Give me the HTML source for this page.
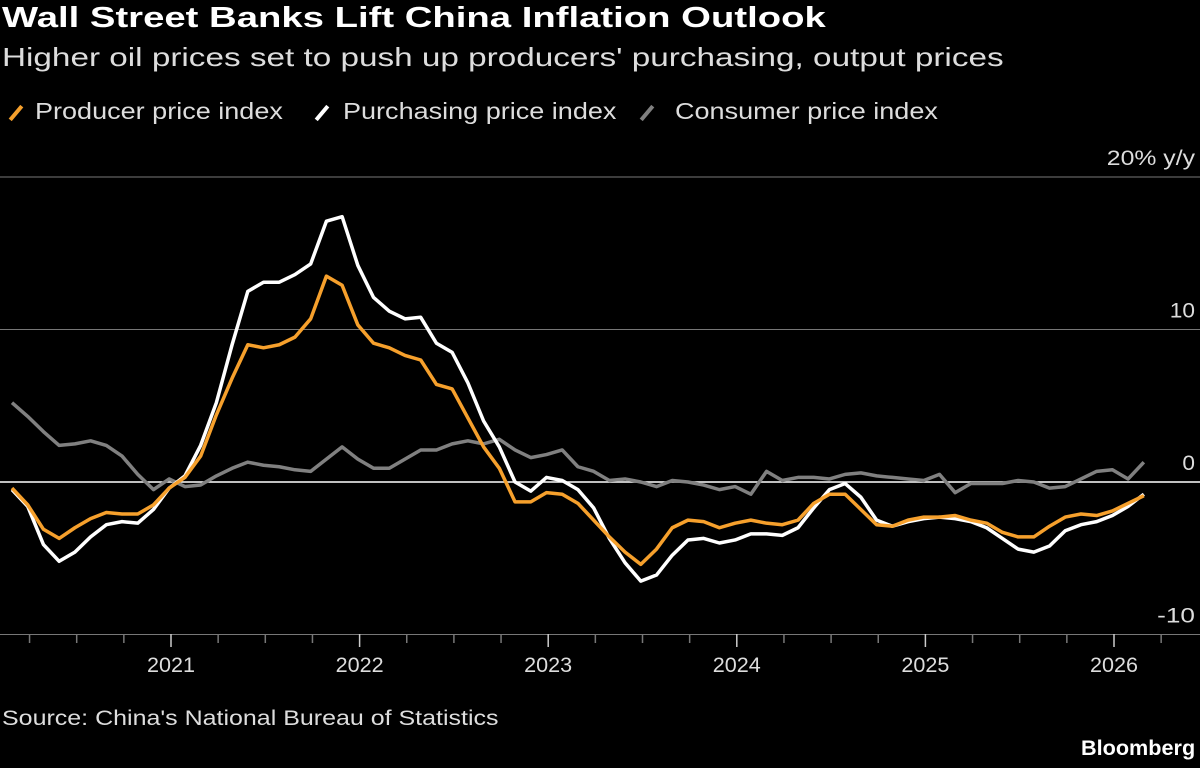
<!DOCTYPE html>
<html><head><meta charset="utf-8"><style>
body{margin:0;background:#000;width:1200px;height:768px;overflow:hidden;font-family:"Liberation Sans",sans-serif;color:#fff}
.t{position:absolute;white-space:nowrap;transform-origin:0 0}
.sl{position:absolute;width:4px;height:18px;transform:rotate(40deg);top:104px}
</style></head><body>
<div class="t" style="left:2px;top:2px;font-size:29px;font-weight:bold;transform:scaleX(1.32)">Wall Street Banks Lift China Inflation Outlook</div>
<div class="t" style="left:2px;top:42px;font-size:26px;color:#ddd;transform:scaleX(1.28)">Higher oil prices set to push up producers' purchasing, output prices</div>
<div>
<div class="sl" style="left:14px;background:#f6a02c"></div>
<div class="t" style="left:35px;top:98px;font-size:23px;color:#ddd;transform:scaleX(1.175)">Producer price index</div>
<div class="sl" style="left:320px;background:#fff"></div>
<div class="t" style="left:343px;top:98px;font-size:23px;color:#ddd;transform:scaleX(1.175)">Purchasing price index</div>
<div class="sl" style="left:645px;background:#808080"></div>
<div class="t" style="left:675px;top:98px;font-size:23px;color:#ddd;transform:scaleX(1.175)">Consumer price index</div>
</div>
<div class="t" style="left:2px;top:707px;font-size:21px;color:#ddd;transform:scaleX(1.19)">Source: China's National Bureau of Statistics</div>
<div class="t" style="left:1081px;top:737px;font-size:21px;font-weight:bold;transform:scaleX(1.03)">Bloomberg</div>
<svg id="c" width="1200" height="768" style="position:absolute;left:0;top:0"></svg>
<script>
const yTicks=[20,10,0,-10];
const yTickLabels=["20% y/y","10","0","-10"];
const years=["2021","2022","2023","2024","2025","2026"];
const ppi=[-0.4,-1.5,-3.1,-3.7,-3.0,-2.4,-2.0,-2.1,-2.1,-1.5,-0.4,0.3,1.7,4.4,6.8,9.0,8.8,9.0,9.5,10.7,13.5,12.9,10.3,9.1,8.8,8.3,8.0,6.4,6.1,4.2,2.3,0.9,-1.3,-1.3,-0.7,-0.8,-1.4,-2.5,-3.6,-4.6,-5.4,-4.4,-3.0,-2.5,-2.6,-3.0,-2.7,-2.5,-2.7,-2.8,-2.5,-1.4,-0.8,-0.8,-1.8,-2.8,-2.9,-2.5,-2.3,-2.3,-2.2,-2.5,-2.7,-3.3,-3.6,-3.6,-2.9,-2.3,-2.1,-2.2,-1.9,-1.4,-0.9];
const purchasing=[-0.5,-1.6,-4.1,-5.2,-4.6,-3.6,-2.8,-2.6,-2.7,-1.8,-0.4,0.4,2.4,5.2,9.0,12.5,13.1,13.1,13.6,14.3,17.1,17.4,14.2,12.1,11.2,10.7,10.8,9.1,8.5,6.5,4.0,2.3,0.0,-0.6,0.3,0.1,-0.5,-1.7,-3.7,-5.3,-6.5,-6.1,-4.8,-3.8,-3.7,-4.0,-3.8,-3.4,-3.4,-3.5,-3.0,-1.7,-0.5,-0.1,-1.0,-2.5,-2.9,-2.6,-2.4,-2.3,-2.4,-2.6,-3.0,-3.7,-4.4,-4.6,-4.2,-3.2,-2.8,-2.6,-2.2,-1.6,-0.8];
const cpi=[5.2,4.3,3.3,2.4,2.5,2.7,2.4,1.7,0.5,-0.5,0.2,-0.3,-0.2,0.4,0.9,1.3,1.1,1.0,0.8,0.7,1.5,2.3,1.5,0.9,0.9,1.5,2.1,2.1,2.5,2.7,2.5,2.8,2.1,1.6,1.8,2.1,1.0,0.7,0.1,0.2,0.0,-0.3,0.1,0.0,-0.2,-0.5,-0.3,-0.8,0.7,0.1,0.3,0.3,0.2,0.5,0.6,0.4,0.3,0.2,0.1,0.5,-0.7,-0.1,-0.1,-0.1,0.1,0.0,-0.4,-0.3,0.2,0.7,0.8,0.2,1.3];
const NS="http://www.w3.org/2000/svg",svg=document.getElementById('c');
const y=v=>482-v*15.25, x=i=>12+i*15.72, xt=k=>171+k*47.15;
function el(t,a){const e=document.createElementNS(NS,t);for(const k in a)e.setAttribute(k,a[k]);svg.appendChild(e);return e;}
yTicks.forEach((v,i)=>{
 const g=el('line',{x1:0,x2:1200,y1:y(v),y2:y(v),stroke:v===0?'#fff':'#777','stroke-width':v===0?1.5:1});
 
 
 const t=el('text',{x:1195,y:y(v)-12,'text-anchor':'end','font-size':21,fill:'#ddd','font-family':'Liberation Sans'});
 t.textContent=yTickLabels[i];
 t.setAttribute('textLength',yTickLabels[i].length*12.6);
 t.setAttribute('lengthAdjust','spacingAndGlyphs');
 
 
});
for(let k=-3;k<=21;k++){
 const maj=k%4===0;
 const tk=el('line',{x1:xt(k),x2:xt(k),y1:634,y2:maj?647:643,stroke:maj?'#ccc':'#777','stroke-width':1.5});
 
 
}
years.forEach((yr,i)=>{
 const t=el('text',{x:xt(i*4),y:672,'text-anchor':'middle','font-size':21,fill:'#ddd','font-family':'Liberation Sans'});
 t.textContent=yr;
 t.setAttribute('textLength',48);
 t.setAttribute('lengthAdjust','spacingAndGlyphs');
 
 
});
[[cpi,'#808080','cpi-line'],[purchasing,'#fff','purchasing-line'],[ppi,'#f6a02c','ppi-line']].forEach(([d,c,n])=>{
 const p=el('polyline',{points:d.map((v,i)=>x(i)+','+y(v)).join(' '),fill:'none',stroke:c,'stroke-width':3.5,'stroke-linejoin':'round'});
 
 
});
</script>
</body></html>
